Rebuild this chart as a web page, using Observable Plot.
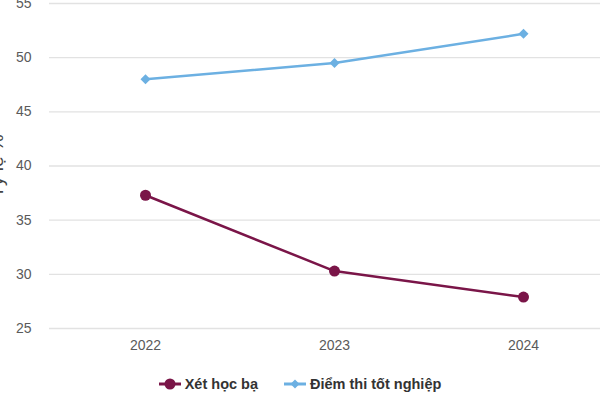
<!DOCTYPE html>
<html>
<head>
<meta charset="utf-8">
<script src="https://cdn.jsdelivr.net/npm/d3@7"></script>
<script src="https://cdn.jsdelivr.net/npm/@observablehq/plot@0.6"></script>
<style>
  body { margin: 0; background: #fff; font-family: "Liberation Sans", Arial, sans-serif; }
  #chart { width: 600px; height: 400px; overflow: hidden; position: relative; }
  .legend { display: flex; justify-content: center; gap: 26px; font-weight: bold; font-size: 14.5px; color: #333; margin-top: 16px; }
  .legend span { display: inline-flex; align-items: center; gap: 4px; }
</style>
</head>
<body>
<div id="chart"></div>
<script>
const years = ["2022", "2023", "2024"];
const seriesNames = ["Xét học bạ", "Điểm thi tốt nghiệp"];
const hocBa = [37.3, 30.3, 27.9];
const diemThi = [48.0, 49.5, 52.2];
const yTicks = [25, 30, 35, 40, 45, 50, 55];
const colors = ["#7a1548", "#6cb0e2"];
const yLabel = "Tỷ lệ %";

const data = [
  ...years.map((y, i) => ({year: y, value: hocBa[i], series: seriesNames[0]})),
  ...years.map((y, i) => ({year: y, value: diemThi[i], series: seriesNames[1]}))
];

const plot = Plot.plot({
  width: 600,
  height: 360,
  marginLeft: 49,
  marginRight: 0,
  marginTop: 3,
  marginBottom: 32,
  style: {fontFamily: "'Liberation Sans', Arial, sans-serif", fontSize: "14px", color: "#5a5a5a", background: "#fff"},
  x: {type: "point", domain: years, range: [145, 523], padding: 0, tickSize: 0, tickPadding: 12, label: null},
  y: {domain: [25, 55], ticks: yTicks, tickSize: 0, tickPadding: 18, label: yLabel, labelArrow: false, labelAnchor: "center", labelOffset: 60},
  marks: [
    Plot.ruleY(yTicks, {stroke: "#e2e2e2", strokeWidth: 1.3}),
    Plot.line(data.filter(d => d.series === seriesNames[0]), {x: "year", y: "value", stroke: colors[0], strokeWidth: 2.5}),
    Plot.line(data.filter(d => d.series === seriesNames[1]), {x: "year", y: "value", stroke: colors[1], strokeWidth: 2.5}),
    Plot.dot(data.filter(d => d.series === seriesNames[0]), {x: "year", y: "value", fill: colors[0], r: 5.5, symbol: "circle"}),
    Plot.dot(data.filter(d => d.series === seriesNames[1]), {x: "year", y: "value", fill: colors[1], r: 4.5, symbol: "diamond2"})
  ]
});
plot.querySelectorAll('[aria-label="y-axis label"]').forEach(e => { e.style.fontSize = "19px"; e.setAttribute("fill", "#444"); });
document.getElementById("chart").appendChild(plot);

const legend = document.createElement("div");
legend.className = "legend";
seriesNames.forEach((name, i) => {
  const sp = document.createElement("span");
  const sym = i === 0
    ? `<svg width="22" height="14"><line x1="0" y1="7" x2="22" y2="7" stroke="${colors[i]}" stroke-width="3"/><circle cx="11" cy="7" r="5.5" fill="${colors[i]}"/></svg>`
    : `<svg width="22" height="14"><line x1="0" y1="7" x2="22" y2="7" stroke="${colors[i]}" stroke-width="3"/><path d="M11 2.5 L15.5 7 L11 11.5 L6.5 7 Z" fill="${colors[i]}"/></svg>`;
  sp.innerHTML = sym + `<span>${name}</span>`;
  legend.appendChild(sp);
});
document.getElementById("chart").appendChild(legend);
</script>
</body>
</html>
